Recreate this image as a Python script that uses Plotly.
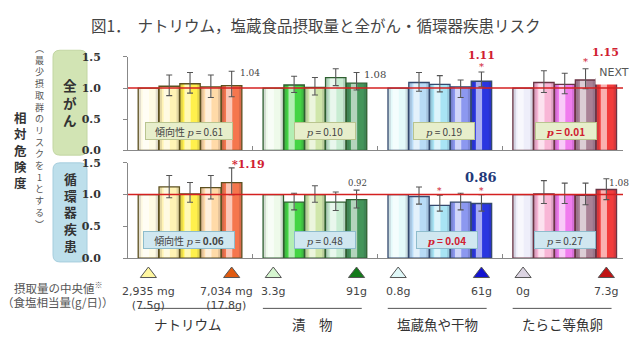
import plotly.graph_objects as go

W, H = 640, 344

# ---------------- data ----------------
groups = ["ナトリウム", "漬　物", "塩蔵魚や干物", "たらこ等魚卵"]
outcomes = ["全がん", "循環器疾患"]

cancer_rr = [
    [1.00, 1.03, 1.07, 1.02, 1.04],
    [1.00, 1.05, 1.01, 1.17, 1.08],
    [1.00, 1.09, 1.06, 1.02, 1.11],
    [1.00, 1.09, 1.06, 1.13, 1.15],
]
cancer_lo = [
    [None, 0.88, 0.92, 0.85, 0.86],
    [None, 0.93, 0.89, 1.04, 0.97],
    [None, 0.95, 0.94, 0.85, 1.02],
    [None, 0.93, 0.91, 0.99, None],
]
cancer_hi = [
    [None, 1.21, 1.25, 1.21, 1.27],
    [None, 1.19, 1.17, 1.31, 1.25],
    [None, 1.25, 1.20, 1.13, 1.26],
    [None, 1.28, 1.24, 1.31, None],
]
cvd_rr = [
    [1.00, 1.12, 1.01, 1.11, 1.19],
    [1.00, 0.88, 1.00, 0.88, 0.92],
    [1.00, 0.97, 0.83, 0.88, 0.86],
    [1.00, 1.01, 1.00, 0.99, 1.08],
]
cvd_lo = [
    [None, 0.95, 0.88, 0.93, 1.00],
    [None, 0.76, 0.88, 0.75, 0.79],
    [None, 0.85, 0.74, 0.76, 0.74],
    [None, 0.86, 0.86, 0.84, 0.92],
]
cvd_hi = [
    [None, 1.30, 1.19, 1.30, 1.42],
    [None, 1.02, 1.14, 1.04, 1.07],
    [None, 1.12, 0.99, 1.02, 1.00],
    [None, 1.22, 1.18, 1.18, 1.25],
]
p_cancer = ["0.61", "0.10", "0.19", "0.01"]
p_cvd = ["0.06", "0.48", "0.04", "0.27"]
median_low = ["2,935 mg<br>(7.5g)", "3.3g", "0.8g", "0g"]
median_high = ["7,034 mg<br>(17.8g)", "91g", "61g", "7.3g"]
y_ticks = [0.0, 0.5, 1.0, 1.5]
y_ticktext = ["0.0", "0.5", "1.0", "1.5"]
Y_MAX = 1.5
REF_RR = 1.0

# ---------------- styles ----------------
bar_colors = [
    ["#fffbe4", "#fff3b4", "#fff04c", "#ffdaa8", "#f5764e"],
    ["#eefaea", "#44d444", "#d0e6aa", "#c8ecd2", "#44955a"],
    ["#e4fafa", "#b8dbf6", "#a8e4f4", "#8c98f0", "#2a36e0"],
    ["#eeeefa", "#f8b6d6", "#f07cee", "#a98296", "#f23c3c"],
]
edge_colors = ["#5c5020", "#2f5f30", "#34496e", "#6a3444"]
tri_low = ["#fff7a0", "#d6f6d0", "#e0f8f8", "#dcd4e2"]
tri_high = ["#e05a10", "#137a1a", "#1414d0", "#c01414"]
RED = "#d02030"
GRAY = "#444444"
JP = "Noto Sans CJK JP"
SERIF = "DejaVu Serif"


def pxx(x):
    return x / W


def pyy(y):
    return 1 - y / H


TOP_DOM = [pyy(150), pyy(53)]
BOT_DOM = [pyy(262), pyy(163)]


def top_paper(v):
    return TOP_DOM[0] + v / Y_MAX * (TOP_DOM[1] - TOP_DOM[0])


fig = go.Figure()

panels = [
    ("x", "y", cancer_rr, cancer_lo, cancer_hi),
    ("x2", "y2", cvd_rr, cvd_lo, cvd_hi),
]
for xa, ya, rr, lo, hi in panels:
    xs, ys, fills, lines = [], [], [], []
    ex, ey, eu, ed = [], [], [], []
    for g in range(4):
        for j in range(5):
            pos = g * 6 + j
            xs.append(pos)
            ys.append(rr[g][j])
            fills.append(bar_colors[g][j])
            lines.append(edge_colors[g])
            if lo[g][j] is not None:
                ex.append(pos)
                ey.append(rr[g][j])
                eu.append(hi[g][j] - rr[g][j])
                ed.append(rr[g][j] - lo[g][j])
    common = dict(x=xs, y=ys, xaxis=xa, yaxis=ya, showlegend=False, hoverinfo="skip")
    fig.add_trace(go.Bar(**common, width=0.98, marker=dict(color=fills, line=dict(width=0))))
    fig.add_trace(go.Bar(**common, width=0.14, offset=-0.49,
                         marker=dict(color="rgba(40,30,60,0.13)", line=dict(width=0))))
    fig.add_trace(go.Bar(**common, width=0.14, offset=0.35,
                         marker=dict(color="rgba(40,30,60,0.13)", line=dict(width=0))))
    fig.add_trace(go.Bar(**common, width=0.30, offset=-0.27,
                         marker=dict(color="rgba(255,255,255,0.6)", line=dict(width=0))))
    fig.add_trace(go.Bar(**common, width=0.98,
                         marker=dict(color="rgba(0,0,0,0)", line=dict(color=lines, width=1.3))))
    fig.add_trace(go.Scatter(x=ex, y=ey, xaxis=xa, yaxis=ya, mode="markers",
                             marker=dict(size=1, opacity=0),
                             error_y=dict(type="data", symmetric=False, array=eu, arrayminus=ed,
                                          color="#555555", thickness=1.1, width=3),
                             showlegend=False, hoverinfo="skip"))
    fig.add_shape(type="line", xref=f"{xa} domain", yref=ya, x0=0, x1=1, y0=REF_RR, y1=REF_RR,
                  line=dict(color="#d42020", width=1.5), layer="above")

# triangles for medians
tx, ty, tc = [], [], []
for g in range(4):
    tx += [g * 6, g * 6 + 4]
    tc += [tri_low[g], tri_high[g]]
    ty += [278, 278]
fig.add_trace(go.Scatter(x=tx, y=ty, xaxis="x2", yaxis="y3", mode="markers",
                         marker=dict(symbol="triangle-up", size=14, color=tc,
                                     line=dict(color="#555555", width=1)),
                         showlegend=False, hoverinfo="skip"))

ann = []


def add(**kw):
    kw.setdefault("showarrow", False)
    kw.setdefault("xanchor", "center")
    kw.setdefault("yanchor", "middle")
    ann.append(kw)


# title
add(xref="paper", yref="paper", x=pxx(316), y=pyy(20),
    text="図1．  ナトリウム，塩蔵食品摂取量と全がん・循環器疾患リスク",
    font=dict(family=JP, size=15.5, color="#444444"))


def vtext(text, xp, yc, size, color, bold=False):
    body = "<br>".join(text)
    if bold:
        body = f"<b>{body}</b>"
    add(xref="paper", yref="paper", x=pxx(xp), y=pyy(yc), text=body,
        font=dict(family=JP, size=size, color=color))


vtext("相対危険度", 20, 150, 12.5, "#333333", bold=True)
vtext("︵最少摂取群のリスクを1とする︶", 39, 136, 9, "#555555")


def rounded(x0, y0, x1, y1, r):
    return (f"M {pxx(x0 + r)},{pyy(y0)} L {pxx(x1 - r)},{pyy(y0)} "
            f"Q {pxx(x1)},{pyy(y0)} {pxx(x1)},{pyy(y0 + r)} L {pxx(x1)},{pyy(y1 - r)} "
            f"Q {pxx(x1)},{pyy(y1)} {pxx(x1 - r)},{pyy(y1)} L {pxx(x0 + r)},{pyy(y1)} "
            f"Q {pxx(x0)},{pyy(y1)} {pxx(x0)},{pyy(y1 - r)} L {pxx(x0)},{pyy(y0 + r)} "
            f"Q {pxx(x0)},{pyy(y0)} {pxx(x0 + r)},{pyy(y0)} Z")


fig.add_shape(type="path", xref="paper", yref="paper", path=rounded(53, 46, 87, 155, 7),
              fillcolor="#d2e4b4", line=dict(color="#c2d6a2", width=1), layer="below")
fig.add_shape(type="path", xref="paper", yref="paper", path=rounded(53, 163, 87, 266, 7),
              fillcolor="#bddfeb", line=dict(color="#a6cede", width=1), layer="below")
vtext(outcomes[0], 70, 100, 13.5, "#333333", bold=True)
vtext(outcomes[1], 70, 214, 12.8, "#333333", bold=True)

# p-value boxes
pshift_top = [1.95, 2.47, 2.19, 2.05]
pshift_bot = [1.95, 2.47, 2.33, 2.03]
pi = '<span style="font-family:DejaVu Serif"><i>p</i></span>'
for g in range(4):
    t = f"{pi} = {p_cancer[g]}"
    col = GRAY
    if g == 0:
        t = "傾向性 " + t
    if g == 3:
        t = f"<b>{pi} = {p_cancer[g]}</b>"
        col = RED
    add(xref="x", yref="y", x=g * 6 + pshift_top[g], y=0.31, text=t,
        width=84 if g == 0 else 58, height=14, bgcolor="#e7eecb",
        bordercolor="#b9c48f", borderwidth=1, borderpad=1,
        font=dict(family=JP, size=10, color=col))
    t = f"{pi} = {p_cvd[g]}"
    col = GRAY
    if g == 0:
        t = f"傾向性 {pi} = <b>{p_cvd[g]}</b>"
    if g == 2:
        t = f"<b>{pi} = {p_cvd[g]}</b>"
        col = RED
    add(xref="x2", yref="y2", x=g * 6 + pshift_bot[g], y=0.29, text=t,
        width=88 if g == 0 else 58, height=14, bgcolor="#d0e7f0",
        bordercolor="#8ebccc", borderwidth=1, borderpad=1,
        font=dict(family=JP, size=10, color=col))


def lab(xa, ya, x, y, text, size=9, color=GRAY, bold=False, xanchor="center"):
    if bold:
        text = f"<b>{text}</b>"
    add(xref=xa, yref=ya, x=x, y=y, text=text, xanchor=xanchor,
        font=dict(family=SERIF, size=size, color=color))


lab("x", "y", 4.3, cancer_rr[0][4] + 0.2, f"{cancer_rr[0][4]:.2f}", xanchor="left")
lab("x", "y", 10.25, cancer_rr[1][4] + 0.14, f"{cancer_rr[1][4]:.2f}", size=10, xanchor="left")
lab("x", "paper", 16, top_paper(1.53), f"{cancer_rr[2][4]:.2f}", size=11, color=RED, bold=True)
lab("x", "y", 16, 1.34, "*", size=10, color=RED)
lab("x", "paper", 21.95, top_paper(1.58), f"{cancer_rr[3][4]:.2f}", size=11, color=RED, bold=True)
lab("x", "y", 21, 1.42, "*", size=10, color=RED)

# NEXT overlay (covers top of the last bar as in the reference)
add(xref="paper", yref="paper", x=pxx(614), y=pyy(69), text="NEXT",
    width=36, height=24, bgcolor="white", borderpad=0,
    font=dict(family="DejaVu Sans", size=11, color="#555555"))

lab("x2", "y2", 3.9, 1.47, f"*{cvd_rr[0][4]:.2f}", size=11, color=RED, bold=True, xanchor="left")
lab("x2", "y2", 10.05, 1.18, f"{cvd_rr[1][4]:.2f}", size=8.5)
lab("x2", "y2", 16, 1.27, f"{cvd_rr[2][4]:.2f}", size=13, color="#1f3a7a", bold=True)
lab("x2", "y2", 14, 1.06, "*", size=9, color=RED)
lab("x2", "y2", 16, 1.06, "*", size=9, color=RED)
lab("x2", "y2", 22.05, 1.18, f"{cvd_rr[3][4]:.2f}", size=9, xanchor="left")

# median labels
for g in range(4):
    add(xref="x2", yref="y3", x=g * 6, y=287, yanchor="top", text=median_low[g],
        font=dict(family="DejaVu Sans", size=11, color=GRAY))
    add(xref="x2", yref="y3", x=g * 6 + 4 - (0.25 if g == 0 else 0), y=287, yanchor="top",
        text=median_high[g], font=dict(family="DejaVu Sans", size=11, color=GRAY))
    add(xref="x2", yref="y3", x=g * 6 + 1.9, y=330, text=groups[g],
        font=dict(family=JP, size=13.5, color="#333333"))
    fig.add_shape(type="line", xref="x2", yref="y3", x0=g * 6 - 0.5, x1=g * 6 + 4.25, y0=314, y1=314,
                  line=dict(color="#555555", width=1))

add(xref="paper", yref="paper", x=pxx(58), y=pyy(293), text="摂取量の中央値<sup>※</sup>",
    font=dict(family=JP, size=11.5, color="#555555"))
add(xref="paper", yref="paper", x=pxx(57), y=pyy(308), text="（食塩相当量(g/日)）",
    font=dict(family=JP, size=11.5, color="#555555"))

xdom = [pxx(128), pxx(623)]
xcommon = dict(domain=xdom, range=[-0.98, 22.8], showgrid=False, zeroline=False, showline=True,
               linecolor="#888888", linewidth=1, tickvals=[5, 11, 17], ticks="inside", ticklen=4,
               tickcolor="#888888", showticklabels=False, fixedrange=True)
ycommon = dict(range=[0, Y_MAX], showgrid=False, zeroline=False, showline=True, linecolor="#888888",
               linewidth=1, tickvals=y_ticks, ticktext=y_ticktext, ticks="outside", ticklen=4,
               tickcolor="#888888", ticklabelstandoff=20,
               tickfont=dict(family=SERIF, size=11, color="#333333", weight="bold"), fixedrange=True)

fig.update_layout(
    width=W, height=H, margin=dict(l=0, r=0, t=0, b=0),
    paper_bgcolor="white", plot_bgcolor="white",
    barmode="overlay", showlegend=False,
    xaxis=dict(**xcommon, anchor="y"),
    xaxis2=dict(**xcommon, anchor="y2", matches="x"),
    yaxis=dict(**ycommon, domain=TOP_DOM, anchor="x"),
    yaxis2=dict(**ycommon, domain=BOT_DOM, anchor="x2"),
    yaxis3=dict(domain=[0, pyy(262) - 0.002], range=[344, 262], visible=False, anchor="x2",
                fixedrange=True),
    annotations=ann,
)

fig.write_html("out.html")
